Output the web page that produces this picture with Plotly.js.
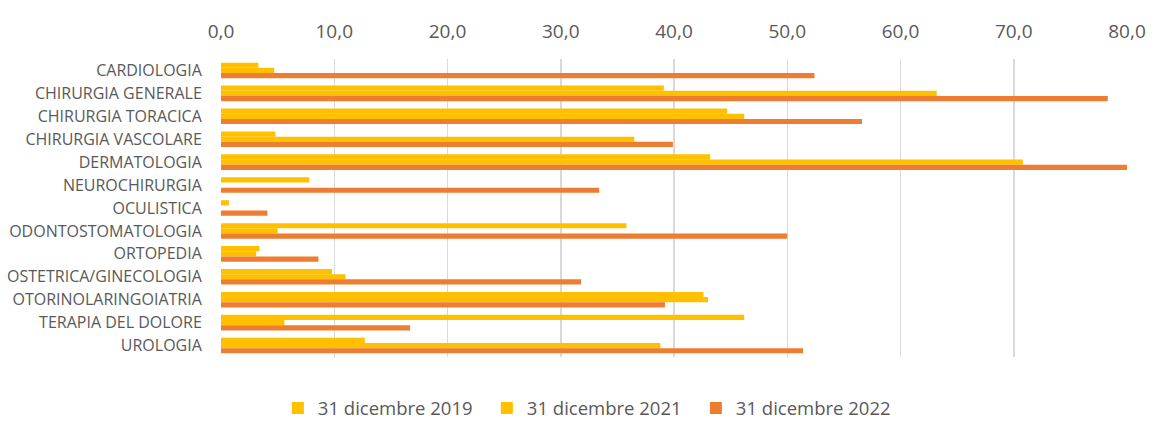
<!DOCTYPE html>
<html>
<head>
<meta charset="utf-8">
<script src="https://cdn.plot.ly/plotly-3.0.1.min.js"></script>
<style>
  html, body { margin: 0; padding: 0; background: #ffffff; }
  #chart { width: 1155px; height: 421px; }
</style>
</head>
<body>
<div id="chart"></div>
<script>
const categories = [
  "CARDIOLOGIA",
  "CHIRURGIA GENERALE",
  "CHIRURGIA TORACICA",
  "CHIRURGIA VASCOLARE",
  "DERMATOLOGIA",
  "NEUROCHIRURGIA",
  "OCULISTICA",
  "ODONTOSTOMATOLOGIA",
  "ORTOPEDIA",
  "OSTETRICA/GINECOLOGIA",
  "OTORINOLARINGOIATRIA",
  "TERAPIA DEL DOLORE",
  "UROLOGIA"
];
const seriesNames = ["31 dicembre 2019", "31 dicembre 2021", "31 dicembre 2022"];
const values2019 = [3.3, 39.1, 44.7, 4.8, 43.2, 7.8, 0.7, 35.8, 3.4, 9.8, 42.6, 46.2, 12.7];
const values2021 = [4.7, 63.2, 46.2, 36.5, 70.8, null, null, 5.0, 3.1, 11.0, 43.0, 5.6, 38.8];
const values2022 = [52.4, 78.3, 56.6, 39.9, 80.1, 33.4, 4.1, 50.0, 8.6, 31.8, 39.2, 16.7, 51.4];
const colors = ["#FFC000", "#FFC000", "#ED7D31"];
const tickVals = [0, 10, 20, 30, 40, 50, 60, 70, 80];

const allValues = [values2019, values2021, values2022];
const traces = allValues.map((vals, i) => ({
  type: "bar",
  orientation: "h",
  name: seriesNames[i],
  y: categories,
  x: vals,
  marker: { color: colors[i], line: { width: 0 } },
  cliponaxis: false,
  hoverinfo: "x+y+name"
}));

const layout = {
  width: 1155,
  height: 421,
  margin: { l: 221, r: 28, t: 59, b: 64 },
  paper_bgcolor: "#ffffff",
  plot_bgcolor: "#ffffff",
  separators: ",.",
  barmode: "group",
  bargap: 0.32,
  bargroupgap: 0,
  font: { family: "'Open Sans', 'Liberation Sans', sans-serif", color: "#595959" },
  xaxis: {
    side: "top",
    range: [0, 80],
    tickvals: tickVals,
    tickformat: ".1f",
    showgrid: true,
    gridcolor: "#d9d9d9",
    gridwidth: 1.5,
    zeroline: false,
    showline: false,
    ticks: "outside",
    ticklen: 12,
    tickcolor: "rgba(0,0,0,0)",
    tickfont: { size: 19, color: "#595959" },
    fixedrange: true
  },
  yaxis: {
    type: "category",
    autorange: "reversed",
    showgrid: false,
    zeroline: false,
    showline: false,
    ticks: "outside",
    ticklen: 15,
    tickcolor: "rgba(0,0,0,0)",
    tickfont: { size: 16, color: "#595959" },
    fixedrange: true
  },
  showlegend: true,
  legend: {
    orientation: "h",
    xref: "container",
    yref: "container",
    x: 0.512,
    xanchor: "center",
    y: 0.03,
    yanchor: "middle",
    entrywidth: 164,
    entrywidthmode: "pixels",
    font: { size: 18.5, color: "#595959" },
    itemclick: false,
    itemdoubleclick: false
  }
};

Plotly.newPlot("chart", traces, layout, { displayModeBar: false, staticPlot: true });
</script>
</body>
</html>
